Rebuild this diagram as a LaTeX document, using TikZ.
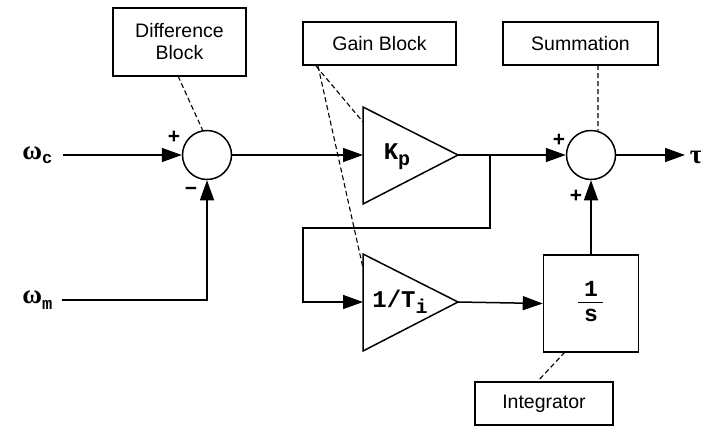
\documentclass[tikz,border=0pt]{standalone}
\usepackage{fontspec}
\setmainfont{Liberation Sans}
\setmonofont{Liberation Mono}
\newfontfamily\grk{Liberation Serif}
\usetikzlibrary{arrows.meta,calc}
\begin{document}
\begin{tikzpicture}[x=1pt,y=-1pt,line width=1.5pt,
  lab/.style={draw,line width=1.2pt,font=\fontsize{19.5}{22}\selectfont,align=center,inner sep=0pt},
  sumc/.style={draw,circle,minimum size=49pt,inner sep=0pt},
  arr/.style={-{Triangle[length=20pt,width=14pt]}},
  dsh/.style={line width=1.1pt,dash pattern=on 5pt off 3pt},
  sgn/.style={font=\bfseries\fontsize{21}{21}\selectfont,inner sep=0pt},
  gain/.style={draw,line width=1.5pt,line join=miter},
  gtxt/.style={font=\ttfamily\bfseries\fontsize{24}{24}\selectfont,inner sep=0pt},
  ftxt/.style={font=\ttfamily\bfseries\fontsize{23}{23}\selectfont,inner sep=0pt},
  sig/.style={font=\grk\bfseries\fontsize{27}{27}\selectfont,inner sep=0pt}]
\useasboundingbox (0,0) rectangle (701,426);
% annotation boxes
\node[lab,minimum width=133pt,minimum height=68pt] (dblk) at (179.5,42) {Difference\\Block};
\node[lab,minimum width=153pt,minimum height=43pt] (gblk) at (379.5,43.5) {Gain Block};
\node[lab,minimum width=155pt,minimum height=43pt] (sblk) at (580.5,43.5) {Summation};
\node[lab,minimum width=138pt,minimum height=43pt] (iblk) at (544,403.5) {Integrator};
% summing junctions
\node[sumc] (diff) at (207,155) {};
\node[sumc] (sum) at (591,155) {};
% gain triangles
\coordinate (kpL) at (363,155);
\coordinate (kpR) at (458,155);
\draw[gain] (363,107) -- (363,204) -- (kpR) -- cycle;
\node[gtxt] (kp) at (397,157) {K\raisebox{-0.45ex}{\fontsize{20}{20}\selectfont p}};
\coordinate (tiL) at (363,302);
\coordinate (tiR) at (458,302);
\draw[gain] (363,254) -- (363,351) -- (tiR) -- cycle;
\node[gtxt] (ti) at (400,302) {1/T\raisebox{-0.45ex}{\fontsize{20}{20}\selectfont i}};
% integrator
\node[draw,line width=1.5pt,minimum width=95pt,minimum height=97pt,inner sep=0pt] (integ) at (591,303.5) {};
\node[ftxt] (one) at (591,289) {1};
\node[ftxt] (ess) at (591,315) {s};
\coordinate (barL) at (578,302.5);
\coordinate (barR) at (603,302.5);
\draw[line width=1.8pt] (barL) -- (barR);
% inputs and output
\node[sig,anchor=east] (wc) at (53,155) {ω\raisebox{-0.35ex}{\ttfamily\bfseries\fontsize{17}{17}\selectfont c}};
\node[sig,anchor=east] (wm) at (53,300) {ω\raisebox{-0.5ex}{\ttfamily\bfseries\fontsize{17}{17}\selectfont m}};
\coordinate (wcS) at (63,155);
\coordinate (wmS) at (62,300);
\coordinate (wmC) at (207,300);
\coordinate (out) at (685,155);
\node[sig,anchor=west] (tau) at (689,157) {τ};
% signal lines
\draw[arr] (wcS) -- (diff.west);
\draw[arr] (wmS) -- (wmC) -- (diff.south);
\draw[arr] (diff.east) -- (kpL);
\draw[arr] (kpR) -- (sum.west);
\coordinate (br) at (490,155);
\coordinate (br1) at (490,228);
\coordinate (br2) at (303,228);
\coordinate (br3) at (303,302);
\draw[arr] (br) -- (br1) -- (br2) -- (br3) -- (tiL);
\draw[arr] (tiR) -- (integ.west);
\draw[arr] (integ.north) -- (sum.south);
\draw[arr] (sum.east) -- (out);
% signs
\node[sgn] (p1) at (174,137) {+};
\node[sgn] (m1) at (191,191) {\textminus};
\node[sgn] (p2) at (559,140) {+};
\node[sgn] (p3) at (576,196) {+};
% dashed pointers
\coordinate (d1) at (178,76);
\draw[dsh] (d1) -- (diff.100);
\coordinate (g1) at (316,66);
\coordinate (g2) at (318,66);
\coordinate (kpE) at (363,122);
\coordinate (tiE) at (363,268);
\draw[dsh] (g1) -- (kpE);
\draw[dsh] (g2) -- (tiE);
\coordinate (s1) at (598,65);
\draw[dsh] (s1) -- (sum.74);
\coordinate (i1) at (565,352);
\coordinate (i2) at (537,382);
\draw[dsh] (i1) -- (i2);
\end{tikzpicture}
\end{document}
